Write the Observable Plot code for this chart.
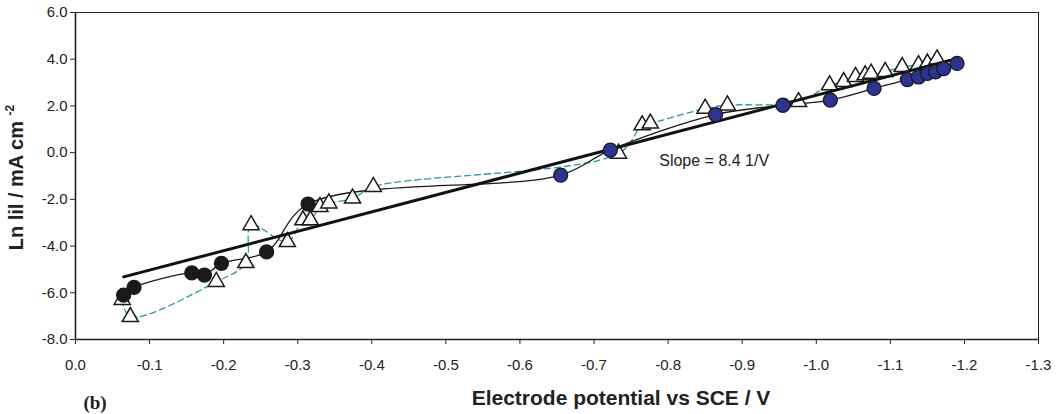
<!DOCTYPE html>
<html>
<head>
<meta charset="utf-8">
<script src="https://cdn.jsdelivr.net/npm/d3@7"></script>
<script src="https://cdn.jsdelivr.net/npm/@observablehq/plot@0.6"></script>
<style>
  html, body { margin: 0; padding: 0; background: #fff; }
  #chart { width: 1063px; height: 414px; }
</style>
</head>
<body>
<div id="chart"></div>
<script>
// ---- data ----
const circleX = [-0.065, -0.079, -0.157, -0.174, -0.197, -0.258, -0.314, -0.655, -0.722, -0.864, -0.955, -1.019, -1.078, -1.123, -1.138, -1.150, -1.161, -1.172, -1.190];
const circleY = [-6.10, -5.77, -5.15, -5.24, -4.74, -4.25, -2.20, -0.96, 0.11, 1.63, 2.03, 2.25, 2.75, 3.13, 3.24, 3.39, 3.46, 3.60, 3.82];

const triX = [-0.063, -0.074, -0.190, -0.230, -0.237, -0.286, -0.307, -0.317, -0.330, -0.342, -0.374, -0.402, -0.733, -0.765, -0.776, -0.850, -0.880, -0.976, -1.018, -1.037, -1.053, -1.066, -1.074, -1.093, -1.116, -1.138, -1.150, -1.163];
const triY = [-6.30, -7.03, -5.53, -4.72, -3.10, -3.82, -2.89, -2.89, -2.32, -2.17, -1.96, -1.46, -0.04, 1.18, 1.25, 1.89, 2.03, 2.17, 2.89, 3.03, 3.25, 3.32, 3.39, 3.46, 3.67, 3.75, 3.82, 4.00];

const trendX = [-0.065, -1.18];
const trendY = [-5.32, 3.95];

const xTicks = [0, -0.1, -0.2, -0.3, -0.4, -0.5, -0.6, -0.7, -0.8, -0.9, -1.0, -1.1, -1.2, -1.3];
const yTicks = [-8, -6, -4, -2, 0, 2, 4, 6];

const annotX = [-0.788];
const annotY = [-0.35];
const annotText = ["Slope = 8.4 1/V"];

// ---- build tables ----
const circles = circleX.map((x, i) => ({x, y: circleY[i]}));
const tris = triX.map((x, i) => ({x, y: triY[i]}));
const trend = trendX.map((x, i) => ({x, y: trendY[i]}));
const annot = annotX.map((x, i) => ({x, y: annotY[i], t: annotText[i]}));

const fmt = d => d.toFixed(1);
const FONT = "'Liberation Sans', Arial, Helvetica, sans-serif";

const W = 1063, H = 414;
const mL = 75, mR = 25, mT = 12, mB = 75;

const plot = Plot.plot({
  width: W,
  height: H,
  marginLeft: mL,
  marginRight: mR,
  marginTop: mT,
  marginBottom: mB,
  style: {fontFamily: FONT, fontSize: "15px", color: "#222", background: "#fff"},
  x: {domain: [0, -1.3]},
  y: {domain: [-8, 6]},
  marks: [
    Plot.frame({stroke: "#222", strokeWidth: 1}),
    Plot.line(tris, {x: "x", y: "y", curve: "catmull-rom", stroke: "#1c9ca3", strokeWidth: 1.3, strokeDasharray: "6,4"}),
    Plot.line(circles, {x: "x", y: "y", curve: "catmull-rom", stroke: "#1a1a1a", strokeWidth: 1.3}),
    Plot.dot(tris, {x: "x", y: "y", symbol: "triangle", r: 6, fill: "white", stroke: "#1a1a1a", strokeWidth: 1.5}),
    Plot.line(trend, {x: "x", y: "y", stroke: "#111", strokeWidth: 3}),
    Plot.dot(circles, {x: "x", y: "y", r: 7, fill: d => d.x > -0.5 ? "#1a1a1a" : "#2b3490", stroke: "#1a1a1a", strokeWidth: 1.3}),
    Plot.text(annot, {x: "x", y: "y", text: "t", textAnchor: "start", fontSize: 16, fill: "#222"}),
    Plot.axisX({ticks: xTicks, tickFormat: fmt, tickSize: 5, tickPadding: 15, fontSize: 15, label: null, stroke: "#222"}),
    Plot.axisY({ticks: yTicks, tickFormat: fmt, tickSize: 5, tickPadding: 3, fontSize: 15, label: null, stroke: "#222"}),
    Plot.ruleX([0], {stroke: "#222", strokeWidth: 1.6}),
    Plot.ruleY([-8], {stroke: "#222", strokeWidth: 1.6})
  ]
});

const svg = d3.select(plot);
// y axis label with superscript
const yl = svg.append("text")
  .attr("transform", `translate(23, ${(mT + (H - mB)) / 2 + 2}) rotate(-90)`)
  .attr("text-anchor", "middle")
  .attr("font-family", FONT)
  .attr("font-weight", "bold")
  .attr("font-size", 20)
  .attr("fill", "#222");
yl.append("tspan").text("Ln lil / mA cm ");
yl.append("tspan").attr("font-size", 12).attr("dy", "-0.75em").text("-2");

// x axis label
svg.append("text")
  .attr("x", 621).attr("y", 405)
  .attr("text-anchor", "middle")
  .attr("font-family", FONT)
  .attr("font-weight", "bold")
  .attr("font-size", 21)
  .attr("fill", "#222")
  .text("Electrode potential vs SCE / V");

// panel tag
svg.append("text")
  .attr("x", 95).attr("y", 409)
  .attr("font-family", "'Liberation Serif', 'Times New Roman', serif")
  .attr("font-weight", "bold")
  .attr("font-size", 19)
  .attr("fill", "#222")
  .text("(b)");

document.getElementById("chart").appendChild(plot);
</script>
</body>
</html>
